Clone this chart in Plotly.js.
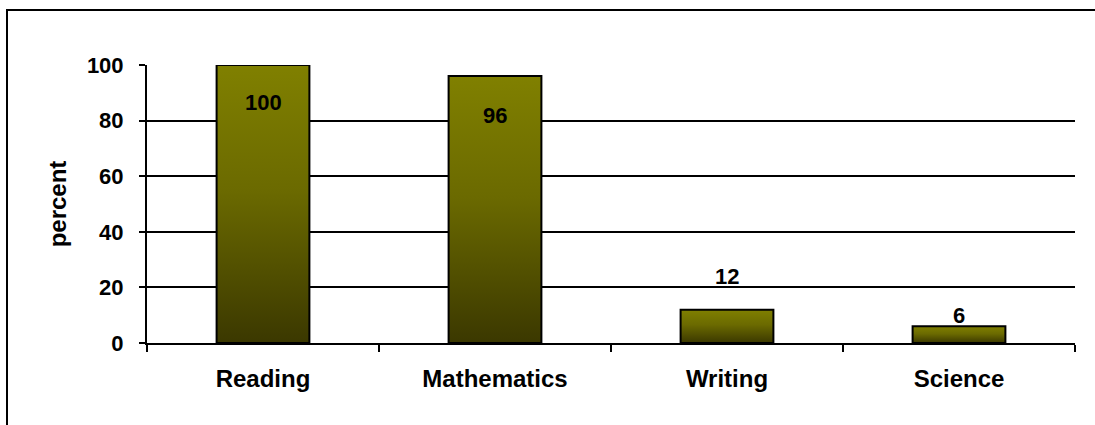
<!DOCTYPE html>
<html>
<head>
<meta charset="utf-8">
<script src="https://cdn.plot.ly/plotly-3.0.1.min.js"></script>
<style>
  html, body { margin: 0; padding: 0; background: #fff; overflow: hidden; }
  #wrap { position: relative; width: 1095px; height: 425px; overflow: hidden; }
  #chart { position: absolute; left: 0; top: 0; width: 1095px; height: 425px; }
  #frame { position: absolute; left: 6px; top: 9px; width: 1200px; height: 600px;
           border-left: 2px solid #000; border-top: 2px solid #000; pointer-events: none; }
</style>
</head>
<body>
<div id="wrap">
  <div id="chart"></div>
  <div id="frame"></div>
</div>
<script>
// ---- data ----
const categories = ['Reading', 'Mathematics', 'Writing', 'Science'];
const percentValues = [100, 96, 12, 6];
const valueLabels = ['100', '96', '12', '6'];
const yTickValues = [0, 20, 40, 60, 80, 100];
const yAxisTitle = 'percent';

// ---- styling ----
const FONT = '"Liberation Sans", Arial, Helvetica, sans-serif';
const labelShiftPx = [-37, -39, 33, 11];   // Excel-like label placement

const trace = {
  type: 'bar',
  x: categories,
  y: percentValues,
  width: 0.4,
  marker: { color: '#666600', line: { color: '#000000', width: 2 } },
  hoverinfo: 'skip'
};

const annotations = categories.map((c, i) => ({
  x: c, y: percentValues[i], xref: 'x', yref: 'y',
  text: valueLabels[i], showarrow: false,
  yshift: labelShiftPx[i], yanchor: 'middle', xanchor: 'center',
  font: { family: FONT, size: 22, color: '#000', weight: 700 }
}));

const layout = {
  width: 1095, height: 425,
  margin: { l: 147, r: 20, t: 65, b: 82, pad: 0 },
  paper_bgcolor: '#ffffff', plot_bgcolor: '#ffffff',
  showlegend: false,
  font: { family: FONT, color: '#000' },
  xaxis: {
    type: 'category',
    tickson: 'boundaries',
    ticks: 'outside', ticklen: 7, tickwidth: 2, tickcolor: '#000',
    showline: true, linecolor: '#000', linewidth: 2,
    showgrid: false, zeroline: false,
    tickfont: { family: FONT, size: 24, color: '#000', weight: 700 },
    ticklabelstandoff: 13,
    fixedrange: true
  },
  yaxis: {
    range: [0, 100],
    tickvals: yTickValues,
    ticktext: yTickValues.map(String),
    ticks: 'outside', ticklen: 6, tickwidth: 2, tickcolor: '#000',
    showline: true, linecolor: '#000', linewidth: 2,
    showgrid: true, gridcolor: '#000', gridwidth: 2,
    zeroline: false,
    tickfont: { family: FONT, size: 22, color: '#000', weight: 700 },
    ticklabelstandoff: 11,
    title: { text: yAxisTitle, font: { family: FONT, size: 24, color: '#000', weight: 700 }, standoff: 13 },
    fixedrange: true
  },
  annotations: annotations
};

Plotly.newPlot('chart', [trace], layout, { staticPlot: true, displayModeBar: false }).then(gd => {
  const svg = gd.querySelector('svg.main-svg');
  const NS = 'http://www.w3.org/2000/svg';
  let defs = svg.querySelector('defs');
  if (!defs) { defs = document.createElementNS(NS, 'defs'); svg.insertBefore(defs, svg.firstChild); }
  const grad = document.createElementNS(NS, 'linearGradient');
  grad.setAttribute('id', 'oliveBarGrad');
  grad.setAttribute('x1', '0'); grad.setAttribute('y1', '0');
  grad.setAttribute('x2', '0'); grad.setAttribute('y2', '1');
  [['0', '#808000'], ['0.45', '#6b6a00'], ['1', '#3b3800']].forEach(([o, c]) => {
    const s = document.createElementNS(NS, 'stop');
    s.setAttribute('offset', o); s.setAttribute('stop-color', c);
    grad.appendChild(s);
  });
  defs.appendChild(grad);
  gd.querySelectorAll('.barlayer .point path').forEach(p => {
    p.style.fill = 'url(#oliveBarGrad)';
  });
});
</script>
</body>
</html>
